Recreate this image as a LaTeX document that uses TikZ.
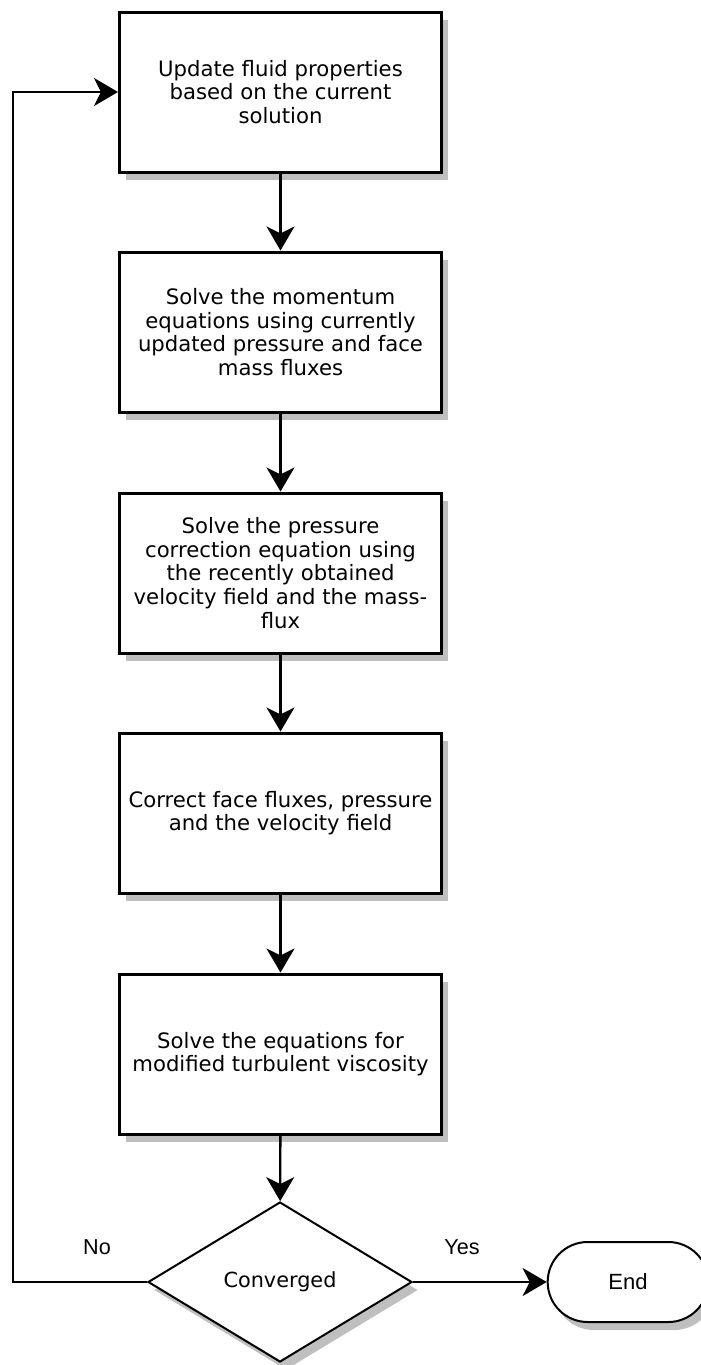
\documentclass[tikz,border=0pt]{standalone}
\usepackage{fontspec}
\setmainfont{DejaVu Sans}
\newfontfamily\labelfont{Liberation Sans}
\usetikzlibrary{%
  arrows.meta,%
  shapes.geometric,% wg. diamond
  shapes.misc,% wg. rounded rectangle
  shadows%
}

\begin{document}
\begin{tikzpicture}
  [
  x=0.5pt, y=-0.5pt,
  font=\fontsize{10.6}{11.85}\selectfont, line width=1.2pt, >={Stealth[length=12pt,width=14pt,inset=3.5pt]},
  boxshadow/.style={drop shadow={shadow xshift=3pt, shadow yshift=-4pt, fill=black!25, opacity=1}},
  procnode/.style={rectangle, draw=black, fill=white, line width=1.5pt, minimum width=161pt, minimum height=80pt, align=center, inner sep=2pt, boxshadow},
  decnode/.style={diamond, draw=black, fill=white, line width=1pt, minimum width=132pt, minimum height=80pt, inner sep=0pt, boxshadow},
  endnode/.style={rounded rectangle, draw=black, fill=white, line width=1pt, minimum width=87pt, minimum height=40pt, boxshadow, font=\labelfont\fontsize{11}{12}\selectfont},
  answer/.style={font=\labelfont\fontsize{10.8}{12}\selectfont},
  ]

  \useasboundingbox (0,0) rectangle (701,1365);

  \node[procnode] (upd) at (280.5,92) {Update fluid properties\\based on the current\\solution};

  \node[procnode] (mom) at (280.5,332) {Solve the momentum\\equations using currently\\updated pressure and face\\mass fluxes}
    edge[<-] (upd);

  \node[procnode] (pcorr) at (280.5,573) {Solve the pressure\\correction equation using\\the recently obtained\\velocity field and the mass-\\flux}
    edge[<-] (mom);

  \node[procnode] (corr) at (280.5,813) {Correct face fluxes, pressure\\and the velocity field}
    edge[<-] (pcorr);

  \node[procnode] (turb) at (280.5,1054) {Solve the equations for\\modified turbulent viscosity}
    edge[<-] (corr);

  \node[decnode, font=\fontsize{10.4}{12}\selectfont] (conv) at (280,1282) {Converged}
    edge[<-] (turb);

  \node[endnode] (stop) at (628,1282) {End}
    edge[<-] (conv);

  \coordinate (back) at (13,1282);
  \draw[->] (conv.west) -- (back) |- (upd.west);

  \node[answer] (no) at (97,1247) {No};
  \node[answer] (yes) at (462,1247) {Yes};
\end{tikzpicture}
\end{document}
